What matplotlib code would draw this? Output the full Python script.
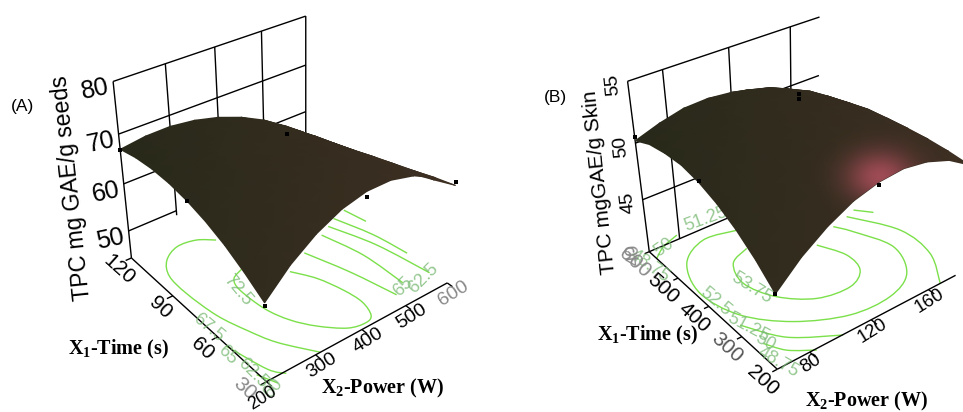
import numpy as np
import matplotlib
matplotlib.use("Agg")
import matplotlib.pyplot as plt
from matplotlib.colors import LinearSegmentedColormap
from matplotlib.patches import PathPatch
from matplotlib.path import Path

plt.rcParams["font.family"] = ["Liberation Sans", "DejaVu Sans"]
plt.rcParams["mathtext.fontset"] = "custom"
plt.rcParams["mathtext.rm"] = "Liberation Serif:bold"
plt.rcParams["mathtext.default"] = "rm"

time_a = [120, 90, 60, 30]
power_a = [200, 300, 400, 500, 600]
z_ticks_a = [50, 60, 70, 80]
time_b = [600, 500, 400, 300, 200]
power_b = [80, 120, 160]
z_ticks_b = [40, 45, 50, 55]

# surfaces, rows go along time, columns along power
grid_time_a = [120, 108.75, 97.5, 86.25, 75, 63.75, 52.5, 41.25, 30]
grid_power_a = [200, 250, 300, 350, 400, 450, 500, 550, 600]
surface_a = [
    [67.0, 67.7, 67.8, 67.2, 66.0, 64.2, 61.8, 58.7, 55.0],
    [67.9, 68.9, 69.2, 68.8, 67.6, 65.8, 63.2, 59.9, 55.8],
    [68.3, 69.7, 70.3, 70.0, 69.0, 67.2, 64.5, 61.0, 56.8],
    [68.2, 70.0, 70.9, 71.0, 70.1, 68.4, 65.8, 62.2, 57.8],
    [67.6, 69.9, 71.2, 71.6, 71.0, 69.4, 66.9, 63.4, 59.0],
    [66.5, 69.3, 71.1, 71.9, 71.6, 70.3, 68.0, 64.7, 60.3],
    [64.9, 68.3, 70.6, 71.9, 72.0, 71.1, 69.0, 65.9, 61.7],
    [62.7, 66.8, 69.7, 71.5, 72.1, 71.6, 69.9, 67.1, 63.2],
    [60.1, 64.9, 68.4, 70.8, 72.0, 72.0, 70.8, 68.4, 64.8],
]
grid_time_b = [600, 550, 500, 450, 400, 350, 300, 250, 200]
grid_power_b = [60, 75, 90, 105, 120, 135, 150, 165, 180]
surface_b = [
    [50.2, 50.9, 51.4, 51.5, 51.3, 50.8, 50.0, 48.9, 47.5],
    [50.9, 51.8, 52.3, 52.5, 52.4, 51.9, 51.0, 49.8, 48.2],
    [51.2, 52.3, 53.0, 53.3, 53.2, 52.7, 51.8, 50.5, 48.8],
    [51.3, 52.5, 53.3, 53.7, 53.7, 53.2, 52.3, 51.0, 49.3],
    [51.0, 52.4, 53.3, 53.8, 53.9, 53.5, 52.7, 51.4, 49.7],
    [50.4, 52.0, 53.0, 53.7, 53.8, 53.6, 52.8, 51.6, 50.0],
    [49.5, 51.2, 52.4, 53.2, 53.5, 53.4, 52.7, 51.6, 50.1],
    [48.3, 50.2, 51.5, 52.4, 52.9, 52.9, 52.4, 51.5, 50.1],
    [46.8, 48.8, 50.3, 51.4, 52.0, 52.2, 51.9, 51.2, 50.0],
]

# contour lines on the floor as (time, power)
contours_a = [
    [(87,336),(84,310),(77,300),(62,304),(51,320),(42,346),(34,383),(32,416),(34,436),(42,447),(52,442),(64,426),(74,400)],
    [(109,350),(114,321),(115,282),(110,246),(101,225),(88,222),(70,230),(56,248),(44,269),(30,310)],
    [(80,454),(59,484),(37,507)],
    [(54,198),(35,218),(29,236)],
    [(35,197),(27,212)],
    [(85,513),(64,535),(41,538)],
    [(88,540),(66,574),(39,595)],
    [(91,564),(72,590),(54,602)],
    [(93,597),(81,607)],
]
contours_b = [
    [(497,104.8),(475,91.1),(416,85.3),(350,92.5),(302,108.6),(291,128.7),(317,142.2),(367,145.1),(425,137.7)],
    [(555,111.1),(569,89.9),(527,70.8),(439,62.3),(348,68.9),(278,87.5),(232,113.8),(227,140.0),(258,160.3),(333,170.7),(416,162.1),(452,156.2)],
    [(462,168.6),(365,184.3),(276,182.6),(200,168.6)],
    [(326,64.4),(253,77.6),(199,101.2)],
    [(264,65.6),(227,71.9),(197,83.7)],
    [(471,176.1),(441,183.8)],
    [(613,80.6),(597,68.7),(574,60.1)],
]
points_a = [(120,200,66.8),(75,200,67.5),(75,400,72.5),(30,200,59.5),(30,400,71),(30,600,65.4)]
points_b = [(600,60,50.5),(400,60,51.1),(400,120,54.8),(400,120,54.4),(200,60,46.8),(200,120,51.8)]

GREEN = "#7be04a"
LABEL_GREEN = "#7dbb78"
GREY = "#8a8a8a"


def fit_camera(world, img, s):
    rows, rhs = [], []
    for (t, p, z), (u, v) in zip(world, img):
        t, p, z = t / s[0], p / s[1], z / s[2]
        rows.append([t, p, z, 1, 0, 0, 0, 0, -u * t, -u * p, -u * z])
        rhs.append(u)
        rows.append([0, 0, 0, 0, t, p, z, 1, -v * t, -v * p, -v * z])
        rhs.append(v)
    m = np.linalg.lstsq(np.array(rows, float), np.array(rhs, float), rcond=None)[0]
    return np.append(m, 1).reshape(3, 4), s


def project(cam, t, p, z):
    m, s = cam
    t = np.asarray(t, float) / s[0]
    p = np.asarray(p, float) / s[1]
    z = np.asarray(z, float) / s[2]
    w = m[2, 0] * t + m[2, 1] * p + m[2, 2] * z + m[2, 3]
    x = (m[0, 0] * t + m[0, 1] * p + m[0, 2] * z + m[0, 3]) / w
    y = (m[1, 0] * t + m[1, 1] * p + m[1, 2] * z + m[1, 3]) / w
    return x, y


cam_a = fit_camera(
    [(120,200,44),(30,200,44),(30,600,44),(120,600,44),(120,200,80),(120,600,80),(30,200,80),(30,600,80)],
    [(131,256),(267,383),(447,282),(306,183),(113,83),(306,15),(262,193),(462,107)],
    (100, 400, 50),
)
cam_b = fit_camera(
    [(600,60,40),(200,60,40),(200,180,40),(600,180,40),(600,60,55),(600,180,55),(200,60,55),(200,180,55)],
    [(647.7,246.7),(777.3,371.7),(956.7,272.7),(818.3,184.3),(628.3,82.3),(820,15.7),(774,191),(975,100)],
    (400, 100, 50),
)

fig = plt.figure(figsize=(9.63, 4.12), dpi=100)
ax = fig.add_axes([0, 0, 1, 1])
shade_map = LinearSegmentedColormap.from_list("shade", ["#28291a", "#3e2f23"])


def seg(cam, t0, p0, z0, t1, p1, z1, **kw):
    x, y = project(cam, [t0, t1], [p0, p1], [z0, z1])
    ax.plot(x, y, **kw)


def draw_surface(cam, times, powers, z):
    T, P = np.meshgrid(times, powers, indexing="ij")
    X, Y = project(cam, T, P, np.array(z))
    ax.pcolormesh(X, Y, X, shading="gouraud", cmap=shade_map, zorder=5)
    return X, Y


def draw_contour(cam, line, floor):
    pts = np.array(line, float)
    x, y = project(cam, pts[:, 0], pts[:, 1], floor)
    k = np.c_[x, y]
    # smooth through the read points
    verts, codes = [k[0]], [Path.MOVETO]
    for i in range(len(k) - 1):
        p0 = k[max(i - 1, 0)]
        p3 = k[min(i + 2, len(k) - 1)]
        verts += [k[i] + (k[i + 1] - p0) / 6, k[i + 1] - (p3 - k[i]) / 6, k[i + 1]]
        codes += [Path.CURVE4] * 3
    ax.add_patch(PathPatch(Path(verts, codes), fc="none", ec=GREEN, lw=1.0, zorder=2))


LINE = dict(color="black", lw=1.0, solid_capstyle="butt", zorder=3)
TXT = dict(ha="center", va="center", rotation_mode="anchor")
SERIF = dict(fontsize=14.5, ha="center", va="center", family="Liberation Serif", weight="bold")

# panel A
for p in power_a:
    seg(cam_a, 120, p, 44 if p == 200 else 49, 120, p, 80, **LINE)
for z in z_ticks_a:
    seg(cam_a, 120, 200, z, 120, 300 if z == 50 else 600, z, **LINE)
seg(cam_a, 120, 200, 44, 30, 200, 44, **LINE)
seg(cam_a, 30, 200, 44, 30, 600, 44, **LINE)
for t in time_a:
    seg(cam_a, t, 200, 44, t, 188, 44, **LINE)
for p in power_a:
    seg(cam_a, 30, p, 44, 27, p, 44, **LINE)
for line in contours_a:
    draw_contour(cam_a, line, 44)
draw_surface(cam_a, grid_time_a, grid_power_a, surface_a)
pts = np.array(points_a)
x, y = project(cam_a, pts[:, 0], pts[:, 1], pts[:, 2])
ax.plot(x, y, ls="none", marker="s", ms=3.0, color="black", mew=0, zorder=7)

for t, col, dx, dy in zip(time_a, ["black", "black", "black", GREY], [-12, -12, -15, -22], [12, 12, 12, 7]):
    x, y = project(cam_a, t, 200, 44)
    ax.text(x + dx, y + dy, str(t), fontsize=15, rotation=-42, color=col, zorder=4, **TXT)
for p, col in zip(power_a, ["black", "black", "black", "black", GREY]):
    x, y = project(cam_a, 30, p, 44)
    ax.text(x + (-4 if p == 200 else 6), y + (17 if p == 200 else 11), str(p),
            fontsize=13 if p == 200 else 14, rotation=32, color=col, zorder=4, **TXT)
for z in z_ticks_a:
    x, y = project(cam_a, 120, 200, z)
    ax.text(x - 18, y + 8, str(z), fontsize=18, rotation=12, zorder=4, **TXT)
ax.text(72, 188, "TPC mg GAE/g seeds", fontsize=16.6, rotation=96, **TXT)
ax.text(23, 106, "(A)", fontsize=12.5, ha="center", va="center")
ax.text(118, 349, "X$_1$-Time (s)", **SERIF)
ax.text(383, 388, "X$_2$-Power (W)", **SERIF)
for txt, x, y, rot in [("72.5", 238, 290, -50), ("67.5", 208, 328, -40), ("65", 227, 355, -45),
                       ("62.5", 253, 373, -45), ("60", 273, 388, 50), ("65", 403, 287, 45), ("62.5", 423, 278, 45)]:
    ax.text(x, y, txt, fontsize=13, rotation=rot, color=LABEL_GREEN, alpha=0.8, zorder=3, **TXT)

# panel B
for p in [60] + power_b:
    seg(cam_b, 600, p, 40, 600, p, 55, **LINE)
for z in z_ticks_b:
    seg(cam_b, 600, 60, z, 600, 180, z, **LINE)
seg(cam_b, 600, 60, 40, 200, 60, 40, **LINE)
seg(cam_b, 200, 60, 40, 200, 180, 40, **LINE)
for t in time_b:
    seg(cam_b, t, 60, 40, t, 57, 40, **LINE)
for p in power_b:
    seg(cam_b, 200, p, 40, 185, p, 40, **LINE)
for line in contours_b:
    draw_contour(cam_b, line, 40)
Xb, Yb = draw_surface(cam_b, grid_time_b, grid_power_b, surface_b)

# reddish highlight near the right front edge
outline = np.vstack([
    np.c_[Xb[0], Yb[0]], np.c_[Xb[:, -1], Yb[:, -1]],
    np.c_[Xb[-1][::-1], Yb[-1][::-1]], np.c_[Xb[:, 0][::-1], Yb[:, 0][::-1]],
])
gx, gy = np.meshgrid(np.arange(800, 963), np.arange(120, 220))
rgba = np.zeros(gx.shape + (4,))
rgba[..., :3] = np.array([0xb0, 0x50, 0x5e]) / 255
rgba[..., 3] = 0.85 * np.exp(-(((gx - 880) / 24.0) ** 2 + ((gy - 176) / 18.0) ** 2) / 2)
img = ax.imshow(rgba, extent=(800, 963, 220, 120), aspect="auto", zorder=6, interpolation="bilinear")
img.set_clip_path(PathPatch(Path(outline), transform=ax.transData))

pts = np.array(points_b)
x, y = project(cam_b, pts[:, 0], pts[:, 1], pts[:, 2])
ax.plot(x, y, ls="none", marker="s", ms=2.4, color="black", mew=0, zorder=7)

for t, col in zip(time_b, [GREY, "black", "black", "#555555", "black"]):
    x, y = project(cam_b, t, 60, 40)
    ax.text(x - 15, y + 11, str(t), fontsize=15, rotation=-42, color=col, zorder=4, **TXT)
for p in power_b:
    x, y = project(cam_b, 200, p, 40)
    ax.text(x + 1, y + 11, str(p), fontsize=13.5, rotation=32, zorder=4, **TXT)
for z, col in zip(z_ticks_b, [GREY, "black", "black", "black"]):
    x, y = project(cam_b, 600, 60, z)
    ax.text(x - 15, y + 3, str(z), fontsize=14, rotation=95, color=col, zorder=4, **TXT)
ax.text(600, 182, "TPC mgGAE/g Skin", fontsize=15, rotation=96, **TXT)
ax.text(555, 97, "(B)", fontsize=12.5, ha="center", va="center")
ax.text(647, 335, "X$_1$-Time (s)", **SERIF)
ax.text(867, 401, "X$_2$-Power (W)", **SERIF)
for txt, x, y, rot in [("53.75", 752, 288, -32), ("52.5", 716, 302, -40), ("51.25", 748, 328, -28),
                       ("50", 765, 342, -30), ("48.75", 778, 362, -30), ("51.25", 706, 219, 20),
                       ("50", 664, 248, 35), ("48.75", 650, 266, -35)]:
    ax.text(x, y, txt, fontsize=13, rotation=rot, color=LABEL_GREEN, alpha=0.8, zorder=3, **TXT)

ax.set_xlim(0, 963)
ax.set_ylim(412, 0)
ax.axis("off")
fig.savefig("out.png", dpi=100)
